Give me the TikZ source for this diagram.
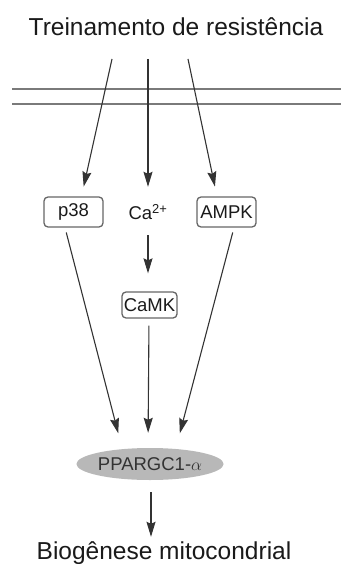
\documentclass[tikz,border=0pt]{standalone}
\usepackage{fontspec}
\setmainfont{Liberation Sans}
\usetikzlibrary{arrows.meta,shapes.geometric,calc}
\definecolor{arrc}{HTML}{333333}
\definecolor{boxc}{HTML}{666666}
\definecolor{memc}{HTML}{7A7A7A}
\definecolor{ellc}{HTML}{B8B8B8}
\definecolor{txtc}{HTML}{1A1A1A}
\begin{document}
\begin{tikzpicture}[x=1pt,y=1pt,
  bigtext/.style={font=\fontsize{24.5}{28}\selectfont, text=txtc, inner sep=0pt, text height=18pt, text depth=5pt},
  kbox/.style={draw=boxc, line width=1.3pt, rounded corners=4pt, font=\fontsize{18.5}{21}\selectfont, text=txtc, minimum height=30pt, inner sep=0pt},
  arr/.style={draw=arrc, line width=1.1pt, -{Stealth[length=15pt,width=9pt,inset=2pt]}},
  mem/.style={draw=memc, line width=2.2pt}
]
\useasboundingbox (0,0) rectangle (341,-564);
% membrane
\draw[mem] (12,-89) -- (341,-89);
\draw[mem] (12,-104) -- (341,-104);
% nodes
\node[bigtext, anchor=base] (title) at (176,-36) {Treinamento de resistência};
\coordinate (tL) at (112,-59);
\coordinate (tM) at (148,-59);
\coordinate (tR) at (188,-59);
\node[kbox, minimum width=59pt] (p38) at (73.5,-212) {p38};
\node[font=\fontsize{18.5}{21}\selectfont, text=txtc, minimum height=30pt, inner sep=0pt] (ca) at (148,-212) {Ca\textsuperscript{2+}};
\node[kbox, minimum width=59pt] (ampk) at (226.5,-212) {AMPK};
\node[kbox, minimum width=55pt, minimum height=26pt] (camk) at (149.5,-305) {CaMK};
\node[ellipse, fill=ellc, minimum width=124pt, minimum height=32pt, inner sep=0pt, font=\fontsize{18.5}{21}\selectfont, text=black!80] (pgc) at (150,-464) {PPARGC1-$\alpha$};
\node[bigtext, anchor=base] (bio) at (164,-559) {Biogênese mitocondrial};
% arrows
\draw[arr, shorten >=10pt] (tL) -- ([xshift=8pt]p38.north);
\draw[arr, shorten >=10pt] (tM) -- (ca.north);
\draw[arr, shorten >=10pt] (tR) -- ([xshift=-9.5pt]ampk.north);
\draw[arr, shorten <=8pt, shorten >=18pt] (ca.south) -- (ca.south |- camk.north);
\draw[arr, shorten <=5pt, shorten >=15pt] ([xshift=-8.5pt]p38.south) -- ([xshift=-28pt]pgc.north);
\draw[arr, shorten <=7pt, shorten >=15pt] ([xshift=-0.5pt]camk.south) -- ([xshift=-2pt]pgc.north);
\draw[arr, shorten <=5pt, shorten >=15pt] ([xshift=7.5pt]ampk.south) -- ([xshift=26pt]pgc.north);
\draw[arr, shorten <=12pt, shorten >=4pt] ([xshift=1pt]pgc.south) -- ([xshift=1pt]pgc.south |- bio.north);
\end{tikzpicture}
\end{document}
